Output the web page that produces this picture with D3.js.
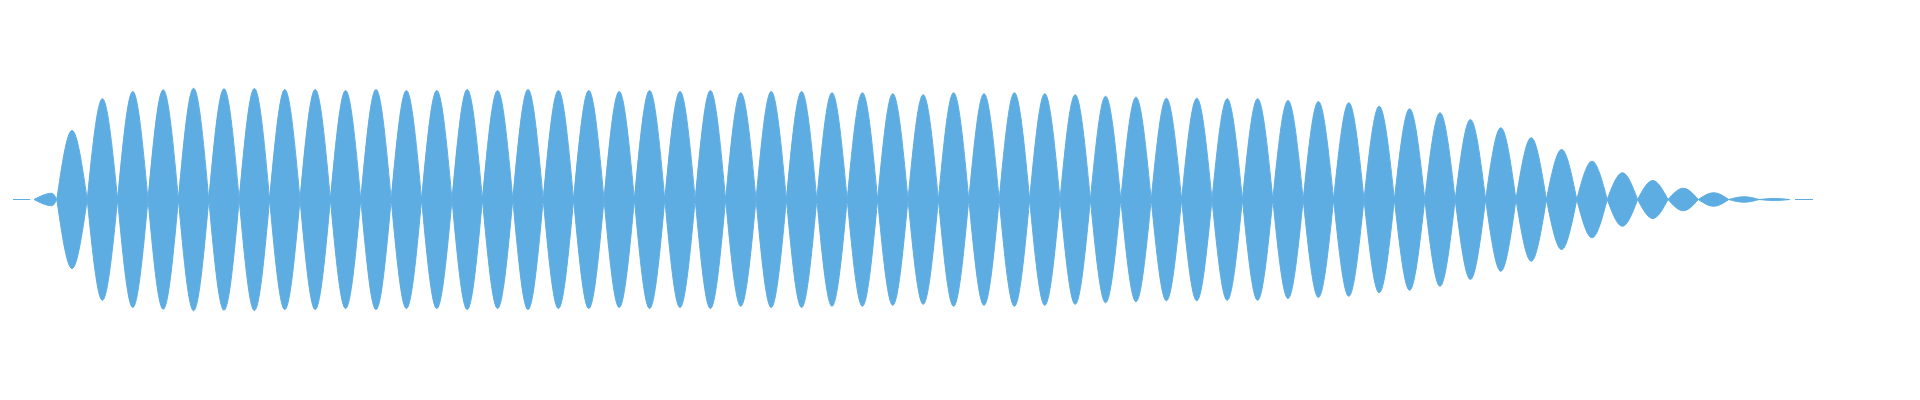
<!DOCTYPE html>
<html>
<head>
<meta charset="utf-8">
<script src="https://cdn.jsdelivr.net/npm/d3@7"></script>
<style>
  body { margin: 0; background: #fff; }
</style>
</head>
<body>
<div id="waveDiv"></div>
<script>
// peak amplitude of each lobe (lobe index 0..56), full scale = 1
var lobeAmp = [
  0.552, 0.806, 0.864, 0.878, 0.890, 0.886, 0.888, 0.880, 0.880, 0.872,
  0.880, 0.872, 0.872, 0.880, 0.872, 0.880, 0.872, 0.872, 0.864, 0.872,
  0.864, 0.872, 0.854, 0.864, 0.864, 0.854, 0.854, 0.846, 0.838, 0.854,
  0.846, 0.854, 0.846, 0.838, 0.826, 0.818, 0.810, 0.810, 0.806, 0.806,
  0.792, 0.784, 0.774, 0.746, 0.726, 0.694, 0.640, 0.574, 0.494, 0.400,
  0.306, 0.214, 0.152, 0.090, 0.054, 0.022, 0.008
];

// lead-in / tail pieces outside the main lobes: [from, peakAt, to, amp] in lobe units
var leadIn = [[-1.94, -1.66, -1.38, 0], [-1.25, -0.66, -0.5, 0.05]];
var tailOut = [[56.68, 56.97, 57.27, 0]];

var svg = d3.select("#waveDiv").append("svg").attr("width", 1920).attr("height", 400),
  margin = {top: 74.5, left: 72, spacing: 30.4};

var x = d3.scaleLinear()
  .domain([0, 1])
  .range([margin.left, margin.left + margin.spacing]);
var y = d3.scaleLinear()
  .domain([-1, 1])
  .range([199.5 + 125, 199.5 - 125]);

var pieces = lobeAmp.map(function (a, i) {
  return [i - 0.5, i, i + 0.5, a];
});
pieces = leadIn.concat(pieces).concat(tailOut);

var area = d3.area()
  .x(function (d) { return x(d[0]); })
  .y0(function (d) { return y(-d[1]); })
  .y1(function (d) { return y(d[1]); })
  .curve(d3.curveMonotoneX);

var g = svg.append("g");

g.selectAll(".lobe")
  .data(pieces)
  .enter().append("path")
  .attr("class", "lobe")
  .attr("d", function (d) {
    return area([[d[0], 0], [d[1], d[3]], [d[2], 0]]);
  })
  .attr("fill", "#5DADE2")
  .attr("stroke", "#5DADE2")
  .attr("stroke-width", 1);
</script>
</body>
</html>
